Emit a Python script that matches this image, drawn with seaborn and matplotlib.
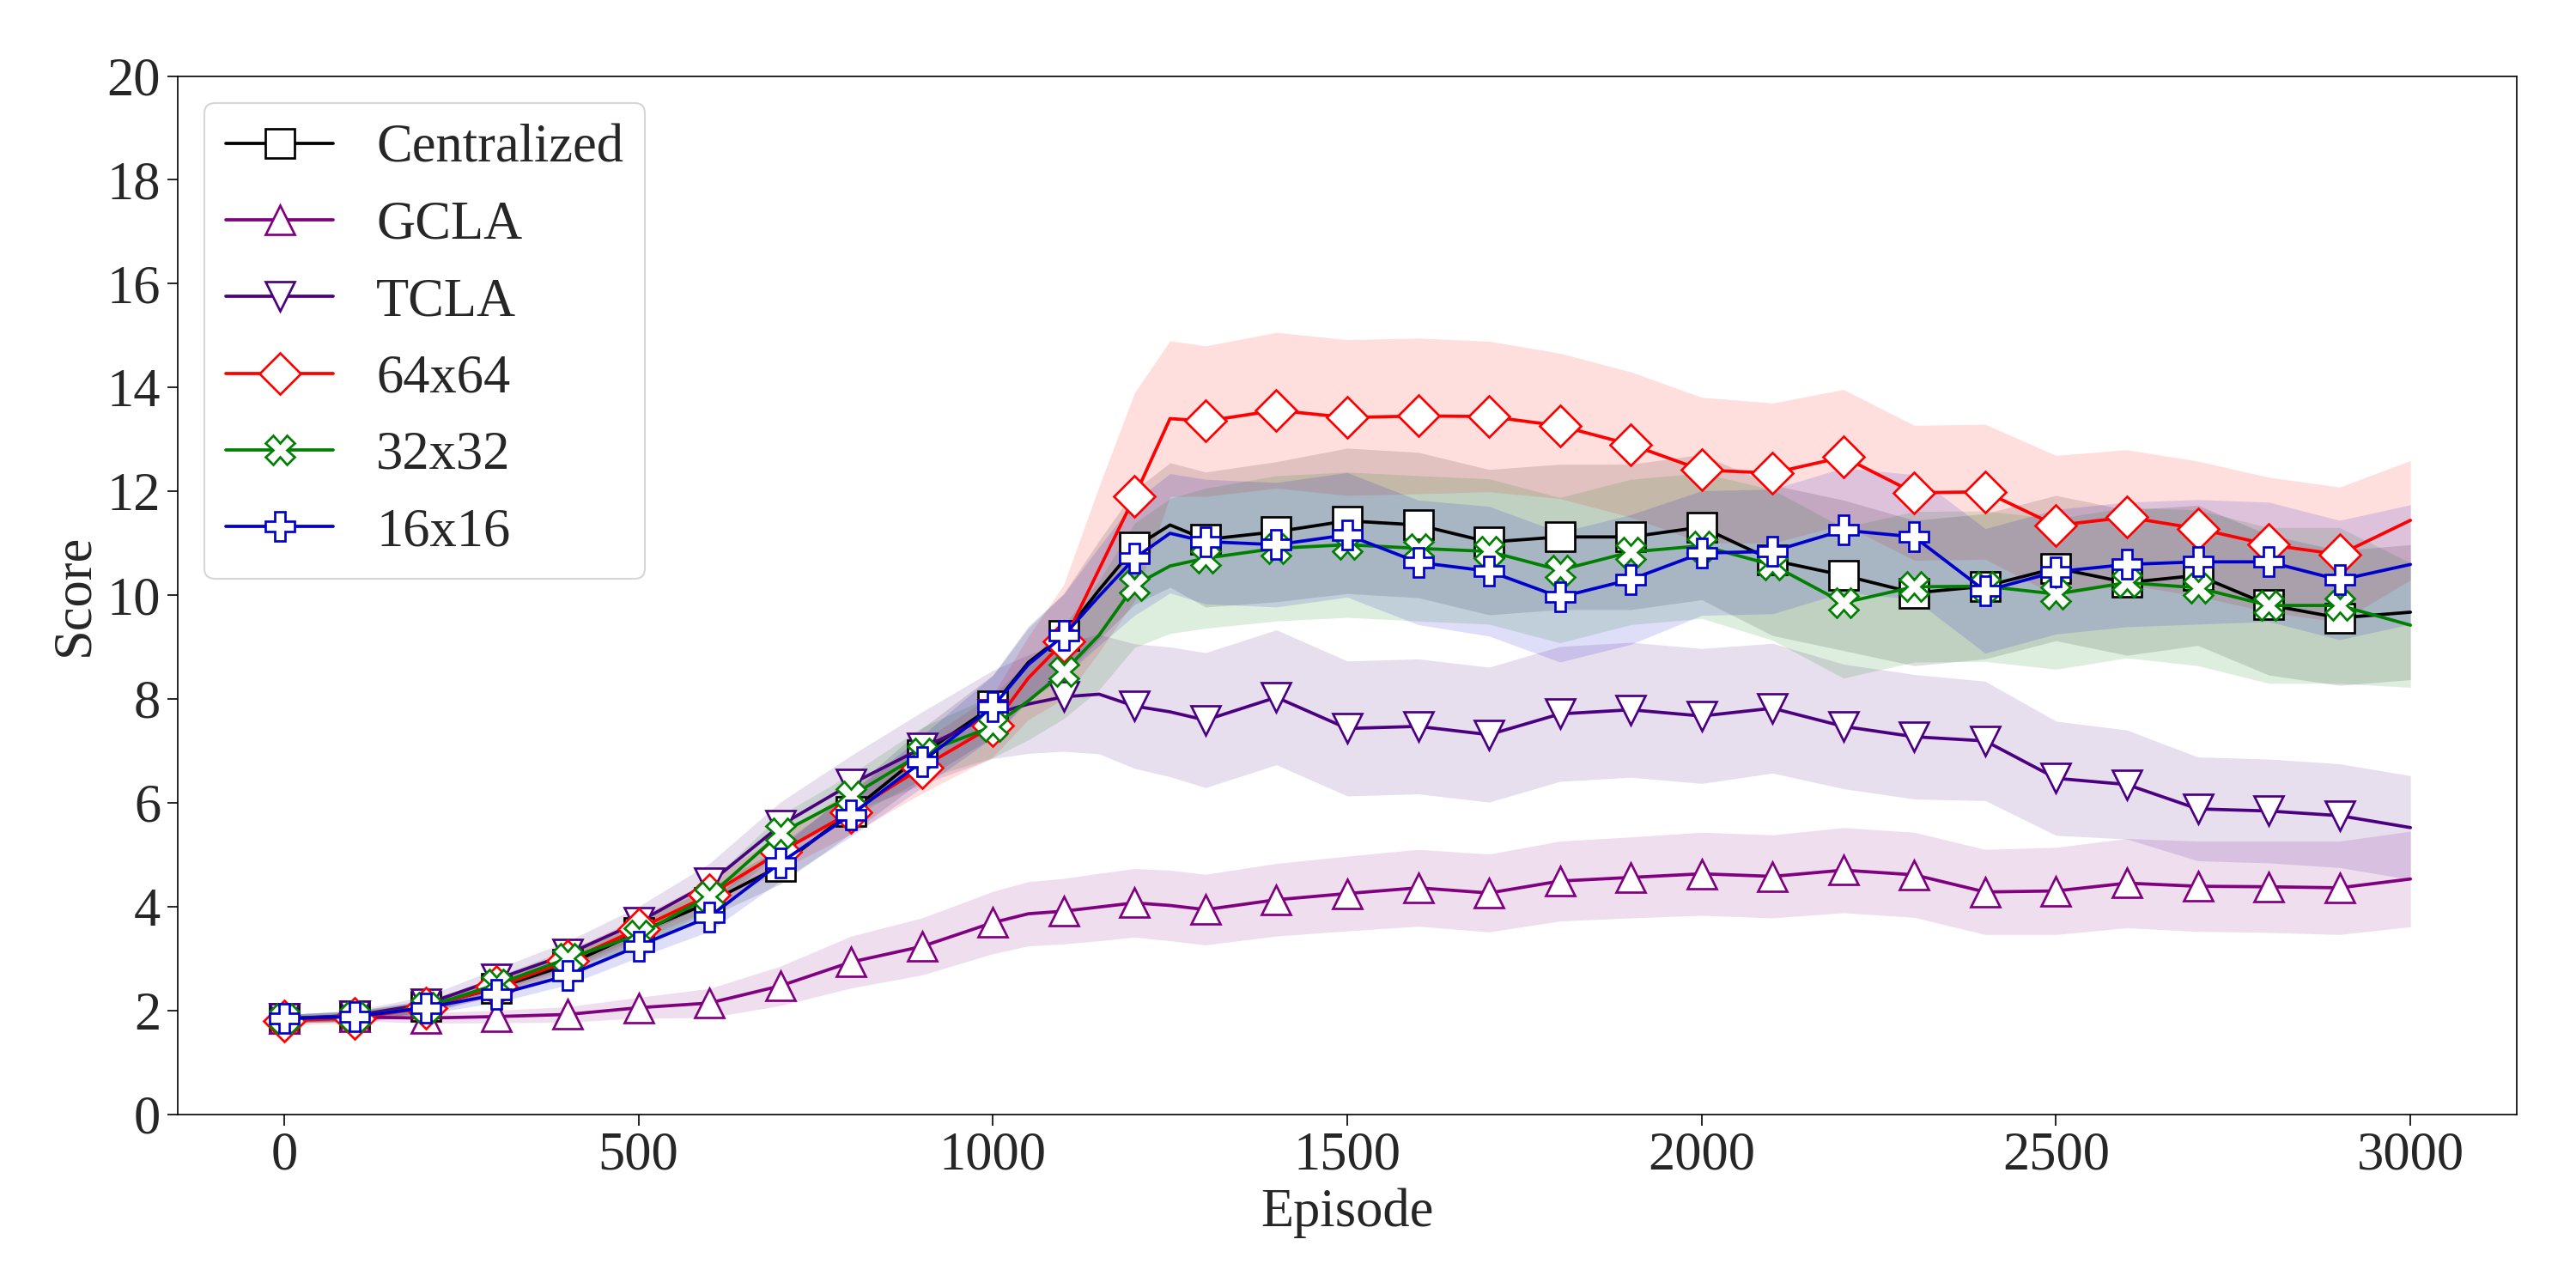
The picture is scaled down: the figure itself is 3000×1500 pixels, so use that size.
import numpy as np
import pandas as pd
import matplotlib
matplotlib.use("Agg")
import matplotlib.pyplot as plt
import seaborn as sns

# Style first, then the serif font list (set_style resets font.family)
sns.set_style("ticks")
plt.rcParams['font.family'] = ['Liberation Serif', 'DejaVu Serif']

# Episodes (markers every 100, a few extra points near the jump)
episodes = [0, 100, 200, 300, 400, 500, 600, 700, 800, 900, 1000, 1050, 1100, 1150,
            1200, 1250, 1300, 1400, 1500, 1600, 1700, 1800, 1900, 2000, 2100, 2200,
            2300, 2400, 2500, 2600, 2700, 2800, 2900, 3000]

# Mean scores
centralized = [1.84, 1.89, 2.08, 2.43, 2.88, 3.50, 4.08, 4.78, 5.83, 6.93, 7.86, 8.70, 9.23, 10.10,
               10.92, 11.35, 11.07, 11.22, 11.43, 11.35, 11.02, 11.12, 11.12, 11.31, 10.67, 10.38,
               10.04, 10.17, 10.52, 10.24, 10.38, 9.81, 9.56, 9.67]
gcla = [1.84, 1.87, 1.85, 1.88, 1.92, 2.05, 2.14, 2.47, 2.93, 3.23, 3.69, 3.86, 3.91, 3.99,
        4.07, 4.02, 3.94, 4.13, 4.25, 4.36, 4.26, 4.49, 4.56, 4.63, 4.58, 4.70,
        4.61, 4.28, 4.30, 4.45, 4.39, 4.38, 4.36, 4.53]
tcla = [1.84, 1.90, 2.12, 2.60, 3.08, 3.70, 4.45, 5.56, 6.36, 7.05, 7.70, 7.90, 8.04, 8.09,
        7.86, 7.75, 7.59, 8.03, 7.43, 7.47, 7.31, 7.71, 7.79, 7.67, 7.82, 7.47,
        7.27, 7.19, 6.47, 6.35, 5.88, 5.84, 5.75, 5.52]
grid64 = [1.80, 1.85, 2.05, 2.45, 2.95, 3.57, 4.22, 5.05, 5.82, 6.68, 7.48, 8.40, 9.10, 10.50,
          11.90, 13.40, 13.35, 13.56, 13.42, 13.45, 13.44, 13.26, 12.90, 12.41, 12.35, 12.66,
          11.97, 11.99, 11.34, 11.50, 11.28, 10.97, 10.78, 11.44]
grid32 = [1.84, 1.88, 2.06, 2.50, 3.00, 3.45, 4.20, 5.41, 6.13, 6.95, 7.47, 7.96, 8.52, 9.23,
          10.19, 10.56, 10.71, 10.90, 10.97, 10.90, 10.84, 10.48, 10.83, 10.95, 10.58, 9.85,
          10.16, 10.17, 10.02, 10.24, 10.14, 9.80, 9.80, 9.42]
grid16 = [1.84, 1.88, 2.05, 2.30, 2.67, 3.24, 3.80, 4.84, 5.77, 6.79, 7.85, 8.66, 9.22, 9.98,
          10.71, 11.19, 11.03, 10.97, 11.16, 10.63, 10.46, 9.96, 10.30, 10.81, 10.84, 11.25,
          11.12, 10.08, 10.45, 10.59, 10.64, 10.64, 10.29, 10.59]

# Half-widths of the shaded bands
centralized_sd = [0.08, 0.10, 0.12, 0.15, 0.18, 0.22, 0.28, 0.35, 0.42, 0.50, 0.60, 0.70, 0.80, 0.95,
                  1.10, 1.20, 1.30, 1.35, 1.40, 1.40, 1.40, 1.40, 1.40, 1.40, 1.45, 1.45,
                  1.40, 1.40, 1.40, 1.40, 1.35, 1.35, 1.30, 1.30]
gcla_sd = [0.05, 0.07, 0.10, 0.12, 0.15, 0.20, 0.28, 0.38, 0.50, 0.55, 0.60, 0.62, 0.63, 0.65,
           0.66, 0.68, 0.68, 0.70, 0.72, 0.74, 0.75, 0.77, 0.78, 0.80, 0.80, 0.82,
           0.82, 0.82, 0.84, 0.86, 0.87, 0.88, 0.90, 0.92]
tcla_sd = [0.08, 0.10, 0.15, 0.20, 0.25, 0.30, 0.38, 0.45, 0.55, 0.70, 0.85, 0.95, 1.05, 1.15,
           1.20, 1.25, 1.30, 1.30, 1.30, 1.30, 1.30, 1.30, 1.30, 1.30, 1.25, 1.20,
           1.20, 1.15, 1.10, 1.05, 1.00, 1.00, 1.00, 1.00]
grid64_sd = [0.08, 0.10, 0.12, 0.15, 0.18, 0.22, 0.28, 0.35, 0.42, 0.50, 0.60, 0.80, 1.10, 1.60,
             2.00, 1.50, 1.45, 1.50, 1.50, 1.50, 1.45, 1.40, 1.40, 1.40, 1.35, 1.30,
             1.30, 1.30, 1.35, 1.30, 1.30, 1.30, 1.30, 1.15]
grid32_sd = [0.08, 0.10, 0.12, 0.15, 0.18, 0.22, 0.28, 0.35, 0.42, 0.50, 0.60, 0.75, 0.90, 1.05,
             1.20, 1.30, 1.35, 1.40, 1.40, 1.40, 1.40, 1.40, 1.40, 1.40, 1.45, 1.45,
             1.45, 1.45, 1.45, 1.45, 1.50, 1.50, 1.50, 1.20]
grid16_sd = [0.08, 0.10, 0.12, 0.15, 0.18, 0.22, 0.28, 0.35, 0.42, 0.50, 0.60, 0.70, 0.80, 0.95,
             1.10, 1.15, 1.20, 1.20, 1.20, 1.20, 1.25, 1.25, 1.25, 1.20, 1.20, 1.20,
             1.20, 1.20, 1.20, 1.20, 1.20, 1.15, 1.15, 1.15]

labels = ['Centralized', 'GCLA', 'TCLA', '64x64', '32x32', '16x16']
means = [centralized, gcla, tcla, grid64, grid32, grid16]
sds = [centralized_sd, gcla_sd, tcla_sd, grid64_sd, grid32_sd, grid16_sd]
colors = ['black', 'purple', 'indigo', 'red', 'green', 'mediumblue']
markers = ['s', '^', 'v', 'D', 'X', 'P']

ep = np.array(episodes)
mark_idx = [i for i, e in enumerate(episodes) if e % 100 == 0 and e < 3000]

fig, ax = plt.subplots(figsize=(20, 10), dpi=150)
fig.subplots_adjust(left=0.069, right=0.977, top=0.941, bottom=0.135)

for name, mu, sd, c, m in zip(labels, means, sds, colors, markers):
    mu = np.array(mu)
    sd = np.array(sd)
    ax.fill_between(ep, mu - sd, mu + sd, color=c, alpha=0.13, linewidth=0)
    sns.lineplot(x=ep, y=mu, ax=ax, color=c, linewidth=1.8, marker=m, markersize=16,
                 markerfacecolor='white', markeredgecolor=c, markeredgewidth=1.3,
                 markevery=mark_idx, label=name)

ax.set_ylim(0, 20)
ax.set_yticks(np.arange(0, 21, 2))
ax.set_xticks([0, 500, 1000, 1500, 2000, 2500, 3000])
ax.set_xlabel('Episode', fontsize=30)
ax.set_ylabel('Score', fontsize=30)
ax.tick_params(labelsize=30, length=6, color='black')
for s in ax.spines.values():
    s.set_color('black')

ax.legend(loc='upper left', fontsize=30)

fig.savefig('out.png', dpi=150)
